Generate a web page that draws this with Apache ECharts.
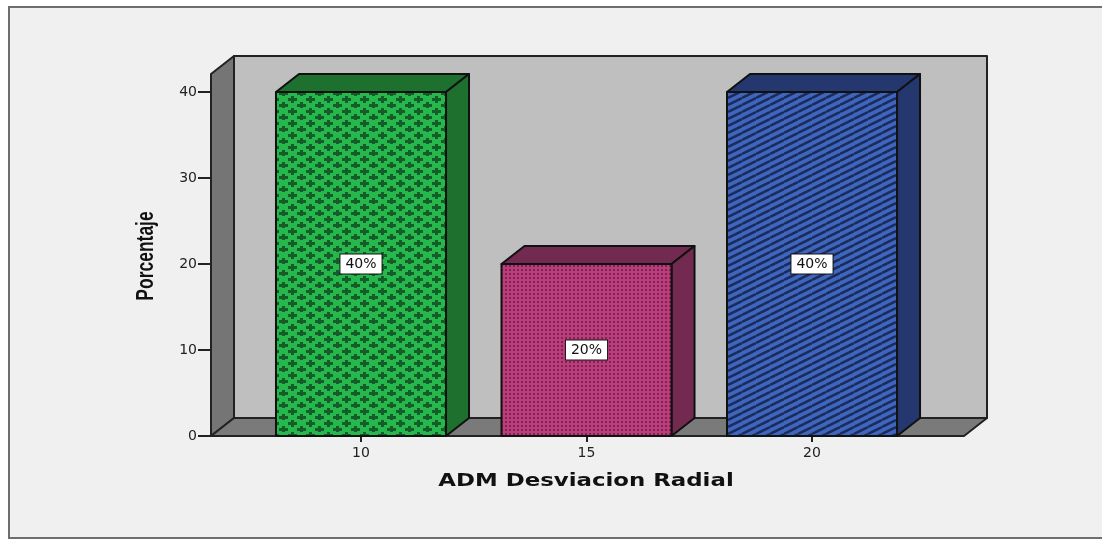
<!DOCTYPE html>
<html>
<head>
<meta charset="utf-8">
<style>
html,body{margin:0;padding:0;background:#fff;}
#chart{width:1102px;height:539px;}
</style>
<script src="https://cdn.jsdelivr.net/npm/echarts@6/dist/echarts.min.js"></script>
</head>
<body>
<div id="chart"></div>
<script>
const categories = [10, 15, 20];
const percentages = [40, 20, 40];
const percentLabels = ['40%', '20%', '40%'];
const yTicks = [0, 10, 20, 30, 40];

const depthX = 23, depthY = 18;
const barUnits = 3.77;

// relleno con trama, como los graficos de SPSS
function tile(w, h, base, paint) {
    const c = document.createElement('canvas');
    c.width = w; c.height = h;
    const g = c.getContext('2d');
    g.fillStyle = base;
    g.fillRect(0, 0, w, h);
    paint(g);
    return { image: c, repeat: 'repeat' };
}
function cross(g, x, y) {
    g.fillRect(x - 4, y - 1, 9, 3);
    g.fillRect(x - 1, y - 3, 3, 7);
}
const greenFill = tile(18, 12, '#27b84d', g => {
    g.fillStyle = '#155c2a';
    cross(g, 4, 3);
    cross(g, 13, 9);
});
const pinkFill = tile(4, 4, '#bd3c7c', g => {
    g.fillStyle = '#7a2652';
    g.fillRect(1, 1, 2, 2);
});
const blueFill = tile(14, 7, '#3f66bd', g => {
    g.strokeStyle = '#1b2b5c';
    g.lineWidth = 2.5;
    [-7, 0, 7, 14].forEach(y => {
        g.beginPath();
        g.moveTo(0, y + 7);
        g.lineTo(14, y);
        g.stroke();
    });
});
const fronts = [greenFill, pinkFill, blueFill];
const sides = ['#1e702f', '#722a50', '#24386f'];

function renderWalls(params, api) {
    const c = params.coordSys;
    const l = c.x, r = c.x + c.width, t = c.y, b = c.y + c.height;
    const line = { stroke: '#222', lineWidth: 2, lineJoin: 'round' };
    const poly = (points, fill) => ({
        type: 'polygon',
        shape: { points },
        style: Object.assign({ fill }, line)
    });
    return {
        type: 'group',
        children: [
            poly([[l + depthX, t - depthY], [r + depthX, t - depthY], [r + depthX, b - depthY], [l + depthX, b - depthY]], '#bfbfbf'),
            poly([[l, b], [l, t], [l + depthX, t - depthY], [l + depthX, b - depthY]], '#757575'),
            poly([[l, b], [l + depthX, b - depthY], [r + depthX, b - depthY], [r, b]], '#7a7a7a')
        ]
    };
}

function renderBar(params, api) {
    const i = params.dataIndex;
    const top = api.coord([api.value(0), api.value(1)]);
    const base = api.coord([api.value(0), 0]);
    const w = api.size([barUnits, 0])[0];
    const x0 = top[0] - w / 2, x1 = top[0] + w / 2;
    const line = { stroke: '#111', lineWidth: 2, lineJoin: 'round' };
    return {
        type: 'group',
        children: [
            {
                type: 'polygon',
                shape: { points: [[x0, top[1]], [x0 + depthX, top[1] - depthY], [x1 + depthX, top[1] - depthY], [x1, top[1]]] },
                style: Object.assign({ fill: sides[i] }, line)
            },
            {
                type: 'polygon',
                shape: { points: [[x1, top[1]], [x1 + depthX, top[1] - depthY], [x1 + depthX, base[1] - depthY], [x1, base[1]]] },
                style: Object.assign({ fill: sides[i] }, line)
            },
            {
                type: 'rect',
                shape: { x: x0, y: top[1], width: w, height: base[1] - top[1] },
                style: Object.assign({ fill: fronts[i] }, line)
            },
            {
                type: 'text',
                x: top[0],
                y: (top[1] + base[1]) / 2,
                style: {
                    text: percentLabels[i],
                    align: 'center',
                    verticalAlign: 'middle',
                    fontFamily: 'DejaVu Sans',
                    fontSize: 14,
                    fill: '#111',
                    backgroundColor: '#fff',
                    borderColor: '#111',
                    borderWidth: 1,
                    padding: [3, 5, 2, 5]
                }
            }
        ]
    };
}

const chart = echarts.init(document.getElementById('chart'));
chart.setOption({
    animation: false,
    backgroundColor: '#fff',
    graphic: [
        {
            type: 'rect',
            z: -1,
            shape: { x: 9, y: 7, width: 1200, height: 531 },
            style: { fill: '#f0f0f0', stroke: '#6e6e6e', lineWidth: 2 }
        },
        {
            // titulo del eje ensanchado, echarts no deja escalar el name
            type: 'text',
            x: 586,
            y: 481,
            scaleX: 1.27,
            style: {
                text: 'ADM Desviacion Radial',
                align: 'center',
                verticalAlign: 'middle',
                fontFamily: 'DejaVu Sans',
                fontWeight: 'bold',
                fontSize: 18,
                fill: '#111'
            }
        },
        {
            type: 'text',
            x: 147,
            y: 256,
            rotation: Math.PI / 2,
            scaleX: 0.76,
            style: {
                text: 'Porcentaje',
                align: 'center',
                verticalAlign: 'middle',
                fontFamily: 'Liberation Sans',
                fontWeight: 'bold',
                fontSize: 23,
                fill: '#111'
            }
        }
    ],
    grid: { left: 211, right: 138, top: 74, bottom: 103 },
    xAxis: {
        type: 'value',
        min: 6.674,
        max: 23.37,
        splitLine: { show: false },
        axisLine: { show: false },
        axisTick: { show: true, customValues: categories, length: 6, lineStyle: { color: '#222', width: 2 } },
        axisLabel: { customValues: categories, margin: 10, color: '#222', fontFamily: 'DejaVu Sans', fontSize: 14 }
    },
    yAxis: {
        type: 'value',
        min: 0,
        max: 42.1,
        splitLine: { show: false },
        axisLine: { show: false },
        axisTick: { show: true, customValues: yTicks, length: 13, lineStyle: { color: '#222', width: 2 } },
        axisLabel: { customValues: yTicks, margin: 14, padding: [10, 0, 0, 0], color: '#222', fontFamily: 'DejaVu Sans', fontSize: 14 }
    },
    series: [
        {
            type: 'custom',
            silent: true,
            z: 1,
            renderItem: renderWalls,
            data: [0]
        },
        {
            type: 'custom',
            z: 2,
            renderItem: renderBar,
            encode: { x: 0, y: 1 },
            data: categories.map((c, i) => [c, percentages[i]])
        }
    ]
});
</script>
</body>
</html>
